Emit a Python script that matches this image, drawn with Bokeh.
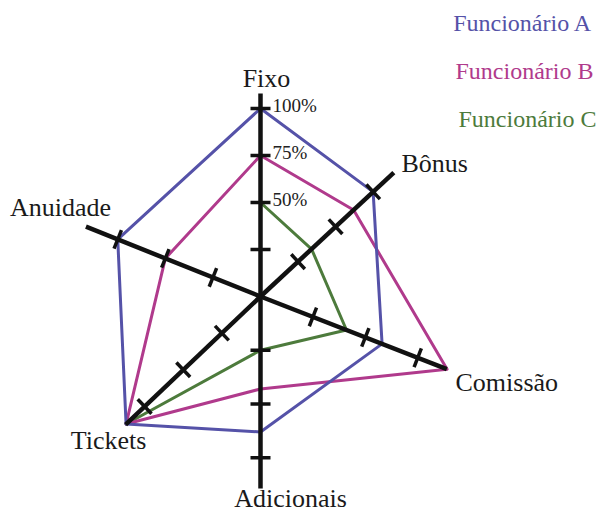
import math
from bokeh.plotting import figure
from bokeh.models import Range1d
from bokeh.embed import file_html
from bokeh.resources import INLINE
from bokeh.core.properties import value

# ---------------- data ----------------
axes_names = ["Fixo", "Bônus", "Comissão", "Adicionais", "Tickets", "Anuidade"]
func_a = [100, 75, 58, 63, 87, 75]
func_b = [75, 62, 89, 43, 87, 50]
func_c = [50, 34, 41, 25, 87, 0]
series_names = ["Funcionário A", "Funcionário B", "Funcionário C"]
tick_values = [50, 75, 100]
tick_labels = ["50%", "75%", "100%"]

# ---------------- layout / style ----------------
W, H = 600, 516
CX, CY = 260, 296                     # centre in picture pixels
angles = [90, 42.9, -21.3, -90, 223.5, 158.2]      # axis direction, degrees
px_per_pct = [1.88, 2.05, 2.25, 2.15, 2.13, 2.05]  # axis scale
axis_len = [203, 182, 200, 192, 186, 188]          # drawn axis length, px
n_ticks = [4, 3, 3, 3, 3, 3]                       # 25 % steps drawn
label_pos = [(266, 78, "center"), (401, 163, "left"), (455, 382, "left"),
             (290, 498, "center"), (108, 440, "center"), (60, 207, "center")]
colors = ["#5552a8", "#b03a8c", "#4d7b3c"]
legend_pos = [(592, 22), (593, 70), (596, 118)]
FONT = "Liberation Serif"

p = figure(width=W, height=H, output_backend="svg", toolbar_location=None,
           x_range=Range1d(0, W), y_range=Range1d(H, 0),
           min_border=0, outline_line_color=None)
p.axis.visible = False
p.grid.visible = False
p.background_fill_color = "white"
p.border_fill_color = "white"


def pt(i, pct):
    a = math.radians(angles[i])
    r = pct * px_per_pct[i]
    return CX + r * math.cos(a), CY - r * math.sin(a)


# series polygons
for vals, col in zip([func_c, func_b, func_a], [colors[2], colors[1], colors[0]]):
    xs, ys = [], []
    for i, v in enumerate(vals + vals[:1]):
        x, y = pt(i % len(vals), v)
        xs.append(x)
        ys.append(y)
    p.line(xs, ys, line_color=col, line_width=3, line_join="round")

# axes lines
ax_xs, ax_ys = [], []
for i in range(len(axes_names)):
    a = math.radians(angles[i])
    ax_xs.append([CX, CX + axis_len[i] * math.cos(a)])
    ax_ys.append([CY, CY - axis_len[i] * math.sin(a)])
p.multi_line(ax_xs, ax_ys, line_color="#111111", line_width=4.5)

# tick marks
tk_xs, tk_ys = [], []
for i in range(len(axes_names)):
    a = math.radians(angles[i])
    px_, py_ = -math.sin(a), -math.cos(a)
    for k in range(1, n_ticks[i] + 1):
        x, y = pt(i, 25 * k)
        tk_xs.append([x - 10 * px_, x + 10 * px_])
        tk_ys.append([y - 10 * py_, y + 10 * py_])
p.multi_line(tk_xs, tk_ys, line_color="#111111", line_width=3.5)

# percentage labels on Fixo axis
tl_x, tl_y = [], []
for v in tick_values:
    x, y = pt(0, v)
    tl_x.append(x + 12)
    tl_y.append(y - 3)
p.text(tl_x, tl_y, text=tick_labels, text_font=value(FONT), text_font_size="19px",
       text_color="#222222", text_baseline="middle", text_align="left")

# axis names
for name, (x, y, al) in zip(axes_names, label_pos):
    p.text([x], [y], text=[name], text_font=value(FONT), text_font_size="26px",
           text_color="#1a1a1a", text_baseline="middle", text_align=al)

# legend texts
for name, col, (x, y) in zip(series_names, colors, legend_pos):
    p.text([x], [y], text=[name], text_font=value(FONT), text_font_size="24px",
           text_color=col, text_baseline="middle", text_align="right")

open("out.html", "w").write(file_html(p, INLINE))
